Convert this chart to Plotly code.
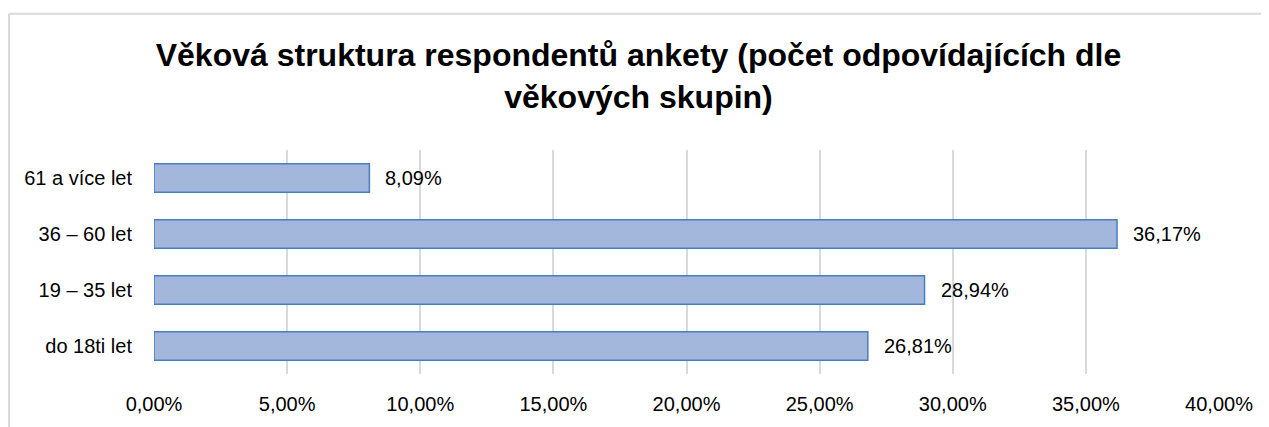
import plotly.graph_objects as go

categories = ["do 18ti let", "19 – 35 let", "36 – 60 let", "61 a více let"]
values = [26.81, 28.94, 36.17, 8.09]
labels = ["26,81%", "28,94%", "36,17%", "8,09%"]
tick_vals = [0, 5, 10, 15, 20, 25, 30, 35, 40]
tick_text = ["0,00%", "5,00%", "10,00%", "15,00%", "20,00%", "25,00%", "30,00%", "35,00%", "40,00%"]
title_text = "Věková struktura respondentů ankety (počet odpovídajících dle<br>věkových skupin)"

FONT = "Liberation Sans"
W, H = 1261, 419
ML, MR, MT, MB = 146, 50, 142, 50
PW, PH = W - ML - MR, H - MT - MB

fig = go.Figure()
fig.add_trace(go.Bar(
    y=categories, x=values, orientation="h",
    marker=dict(color="#a3b7dd", line=dict(color="#4a7ebb", width=1.5)),
    hoverinfo="skip",
))

for c, v, t in zip(categories, values, labels):
    fig.add_annotation(x=v, y=c, text=t, showarrow=False, xanchor="left",
                       xshift=14, font=dict(family=FONT, size=20, color="#000000"))

fig.update_layout(
    width=W, height=H,
    margin=dict(l=ML, r=MR, t=MT, b=MB),
    paper_bgcolor="white", plot_bgcolor="white",
    bargap=0.49,
    showlegend=False,
    title=dict(text=title_text, x=0.5, xanchor="center", y=0.861, yanchor="top",
               font=dict(family="Liberation Sans", size=32, color="#000000", weight="bold")),
    xaxis=dict(range=[0, 40], tickvals=tick_vals, ticktext=tick_text,
               showgrid=True, gridcolor="#d9d9d9", gridwidth=1.5,
               zeroline=False, showline=False, ticks="", ticklabelstandoff=16,
               tickfont=dict(family=FONT, size=20, color="#000000"), fixedrange=True),
    yaxis=dict(showgrid=False, zeroline=False, showline=False, ticks="",
               ticklabelstandoff=21,
               tickfont=dict(family=FONT, size=20, color="#000000"), fixedrange=True),
)

# outer chart border (top and left edges visible in the frame)
x_left = (1 - ML) / PW
y_top = 1 + (MT - 4) / PH
fig.add_shape(type="line", xref="paper", yref="paper",
              x0=x_left, x1=(W - ML) / PW, y0=y_top, y1=y_top,
              line=dict(color="#d9d9d9", width=2), layer="below")
fig.add_shape(type="line", xref="paper", yref="paper",
              x0=x_left, x1=x_left, y0=-(MB + 10) / PH, y1=y_top,
              line=dict(color="#d9d9d9", width=2), layer="below")

fig.write_html("out.html", config={"displayModeBar": False})
